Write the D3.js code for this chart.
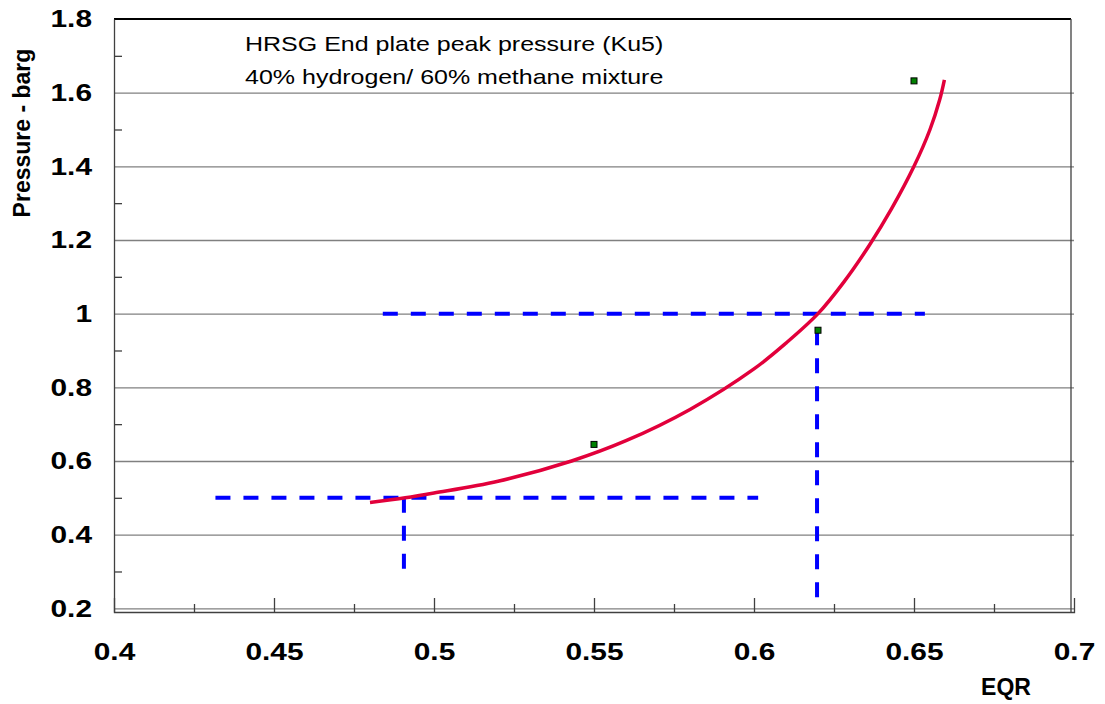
<!DOCTYPE html>
<html>
<head>
<meta charset="utf-8">
<script src="https://cdn.jsdelivr.net/npm/d3@7"></script>
<style>
  body { margin: 0; background: #fff; }
  svg { display: block; font-family: "Liberation Sans", Arial, sans-serif; }
  .grid line { stroke: #808080; stroke-width: 1.3; }
  .grid path { display: none; }
  .tk text { font-weight: bold; font-size: 24.5px; fill: #000; }
  .tk line, .tk path { stroke: #404040; stroke-width: 1.3; }
</style>
</head>
<body>
<svg id="chart_1"></svg>
<script>
// fitted curve
var curveEqr = [0.480, 0.491, 0.500, 0.520, 0.543, 0.560, 0.580, 0.600, 0.610, 0.620, 0.628, 0.636, 0.643, 0.650, 0.655, 0.658, 0.6595];
var curveP   = [0.487, 0.500, 0.513, 0.545, 0.600, 0.655, 0.740, 0.850, 0.920, 1.000, 1.085, 1.185, 1.285, 1.400, 1.500, 1.580, 1.635];

// measured points
var ptEqr = [0.55, 0.62, 0.65];
var ptP   = [0.645, 0.955, 1.632];

// dashed guides: [x1, y1, x2, y2]
var guides = [
  [0.4317, 0.50, 0.6013, 0.50],
  [0.4906, 0.50, 0.4906, 0.28],
  [0.484, 1.00, 0.6534, 1.00],
  [0.6197, 0.955, 0.6197, 0.22]
];

var xMajor = [0.4, 0.45, 0.5, 0.55, 0.6, 0.65, 0.7];
var xMinor = [0.425, 0.475, 0.525, 0.575, 0.625, 0.675];
var yMajor = [0.2, 0.4, 0.6, 0.8, 1.0, 1.2, 1.4, 1.6, 1.8];
var yMinor = [0.3, 0.5, 0.7, 0.9, 1.1, 1.3, 1.5, 1.7];

var titleLines = ["HRSG End plate peak pressure (Ku5)", "40% hydrogen/ 60% methane mixture"];

var W = 1105, H = 704;
var stretch = 1.22;

var svg_1 = d3.select("#chart_1").attr("width", W).attr("height", H);

var x = d3.scaleLinear().domain([0.4, 0.7]).range([114, 1074]);
var y = d3.scaleLinear().domain([0.19, 1.8]).range([612, 19]);

// gridlines
svg_1.append("g")
    .attr("class", "grid")
    .attr("transform", "translate(" + x(0.4) + ",0)")
    .call(d3.axisLeft(y).tickValues(yMajor.filter(function (d) { return d < 1.8; }))
        .tickSize(-(x(0.7) - x(0.4))).tickFormat(""));

// plot frame
svg_1.append("line").attr("x1", x(0.4)).attr("x2", x(0.7) - 3)
    .attr("y1", y(1.8)).attr("y2", y(1.8)).attr("stroke", "#000").attr("stroke-width", 2.2);
svg_1.append("line").attr("x1", x(0.7) - 3).attr("x2", x(0.7) - 3)
    .attr("y1", y(1.8)).attr("y2", y(0.19)).attr("stroke", "#404040").attr("stroke-width", 1.3);

// y axis
var yAx = svg_1.append("g").attr("class", "tk")
    .attr("transform", "translate(" + x(0.4) + ",0)")
    .call(d3.axisLeft(y).tickValues(yMajor).tickSize(0).tickPadding(22)
        .tickFormat(function (d) { return d3.format("")(+d.toFixed(1)); }));
yAx.selectAll("text")
    .attr("x", -22 / stretch)
    .attr("transform", "scale(" + stretch + ",1)");

svg_1.append("g").attr("class", "tk")
    .attr("transform", "translate(" + x(0.4) + ",0)")
    .call(d3.axisRight(y).tickValues(yMinor).tickSize(8).tickFormat(""))
    .select(".domain").remove();

// x axis
var xAx = svg_1.append("g").attr("class", "tk")
    .attr("transform", "translate(0," + y(0.19) + ")")
    .call(d3.axisBottom(x).tickValues(xMajor).tickSize(-14).tickPadding(31)
        .tickFormat(function (d) { return d3.format("")(+d.toFixed(2)); }));
xAx.selectAll("text").attr("transform", "scale(" + stretch + ",1)");
xAx.selectAll(".tick").filter(function (d) { return d === 0.4 || d === 0.7; }).select("line").remove();

svg_1.append("g").attr("class", "tk")
    .attr("transform", "translate(0," + y(0.19) + ")")
    .call(d3.axisBottom(x).tickValues(xMinor).tickSize(-8).tickFormat(""))
    .select(".domain").remove();

// axis titles
svg_1.append("text")
    .attr("transform", "translate(30,133) rotate(-90)")
    .attr("text-anchor", "middle")
    .style("font-weight", "bold").style("font-size", "23px")
    .text("Pressure - barg");

svg_1.append("text")
    .attr("x", 1006).attr("y", 695)
    .attr("text-anchor", "middle")
    .style("font-weight", "bold").style("font-size", "23px")
    .text("EQR");

// annotation
svg_1.append("g").selectAll("text")
    .data(titleLines)
    .join("text")
    .attr("x", 245 / stretch)
    .attr("y", function (d, i) { return 51 + i * 33; })
    .attr("transform", "scale(" + stretch + ",1)")
    .style("font-size", "20.5px")
    .text(function (d) { return d; });

// dashed guides
svg_1.append("g").selectAll("line")
    .data(guides)
    .join("line")
    .attr("x1", function (d) { return x(d[0]); })
    .attr("y1", function (d) { return y(d[1]); })
    .attr("x2", function (d) { return x(d[2]); })
    .attr("y2", function (d) { return y(d[3]); })
    .attr("stroke", "#0000ff")
    .attr("stroke-width", 4)
    .attr("stroke-dasharray", "15,13");

// fitted curve
var curveData = d3.zip(curveEqr, curveP);
svg_1.append("path")
    .datum(curveData)
    .attr("fill", "none")
    .attr("stroke", "#e2003b")
    .attr("stroke-width", 3.5)
    .attr("d", d3.line()
        .x(function (d) { return x(d[0]); })
        .y(function (d) { return y(d[1]); })
        .curve(d3.curveCatmullRom.alpha(0.5)));

// measured points
svg_1.append("g").selectAll("rect")
    .data(d3.zip(ptEqr, ptP))
    .join("rect")
    .attr("x", function (d) { return x(d[0]) - 3; })
    .attr("y", function (d) { return y(d[1]) - 3; })
    .attr("width", 6).attr("height", 6)
    .attr("fill", "#008000")
    .attr("stroke", "#000")
    .attr("stroke-width", 1);
</script>
</body>
</html>
